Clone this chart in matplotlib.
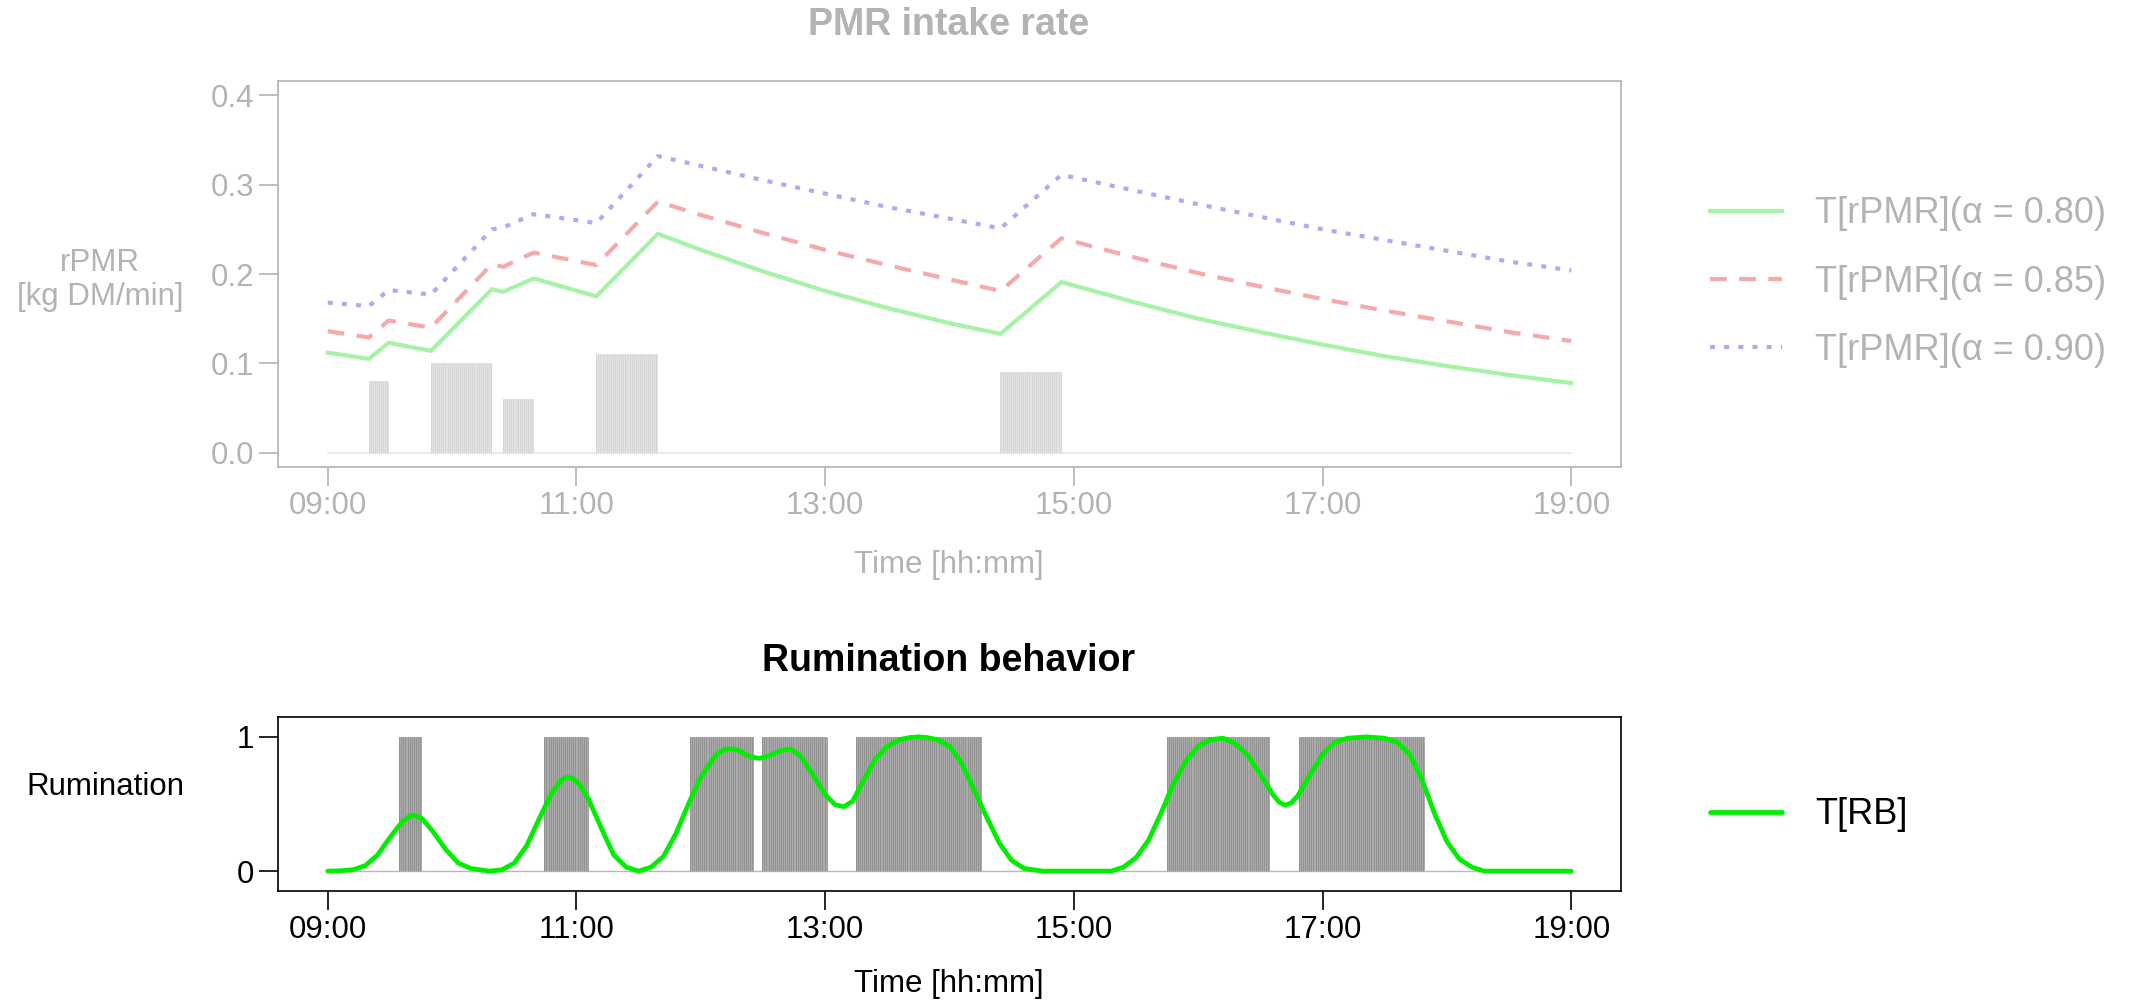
import numpy as np
import matplotlib.pyplot as plt

plt.rcParams['font.family'] = ['Liberation Sans', 'DejaVu Sans']

# x axis: time in decimal hours
tick_hours = [9, 11, 13, 15, 17, 19]
tick_labels = ['09:00', '11:00', '13:00', '15:00', '17:00', '19:00']

# PMR intake rate (same time grid for all three curves)
pmr_time = [9.0, 9.33, 9.49, 9.83, 10.32, 10.41, 10.655, 11.16, 11.655, 12.0, 12.5, 13.0,
            13.5, 14.0, 14.41, 14.9, 15.5, 16.0, 16.5, 17.0, 17.5, 18.0, 18.5, 19.0]
pmr_a080 = [0.112, 0.105, 0.123, 0.114, 0.183, 0.180, 0.195, 0.175, 0.245, 0.227, 0.203, 0.181,
            0.162, 0.145, 0.133, 0.191, 0.168, 0.150, 0.135, 0.121, 0.108, 0.097, 0.087, 0.078]
pmr_a085 = [0.136, 0.129, 0.148, 0.140, 0.211, 0.208, 0.224, 0.210, 0.281, 0.266, 0.246, 0.227,
            0.210, 0.194, 0.181, 0.240, 0.218, 0.201, 0.186, 0.172, 0.159, 0.147, 0.135, 0.125]
pmr_a090 = [0.168, 0.164, 0.182, 0.177, 0.250, 0.252, 0.267, 0.257, 0.332, 0.321, 0.305, 0.290,
            0.275, 0.262, 0.251, 0.311, 0.293, 0.278, 0.264, 0.250, 0.238, 0.226, 0.214, 0.204]
pmr_labels = ['T[rPMR](\u03b1 = 0.80)', 'T[rPMR](\u03b1 = 0.85)', 'T[rPMR](\u03b1 = 0.90)']

# intake events
intake_start = [9.33, 9.83, 10.41, 11.16, 14.41]
intake_end = [9.49, 10.32, 10.655, 11.655, 14.9]
intake_height = [0.08, 0.10, 0.06, 0.11, 0.09]

# rumination bouts
rum_start = [9.575, 10.742, 11.912, 12.495, 13.245, 15.746, 16.81]
rum_end = [9.758, 11.094, 12.427, 13.012, 14.26, 16.575, 17.825]

# smoothed rumination behaviour
rb_time = [9.00, 9.10, 9.20, 9.30, 9.40, 9.50, 9.60, 9.68, 9.76, 9.85, 9.95, 10.05, 10.15, 10.30,
           10.40, 10.50, 10.60, 10.70, 10.80, 10.87, 10.92, 10.97, 11.03, 11.10, 11.20, 11.30,
           11.40, 11.50, 11.60, 11.70, 11.80, 11.90, 12.00, 12.10, 12.15, 12.20, 12.25, 12.30,
           12.40, 12.47, 12.55, 12.65, 12.72, 12.80, 12.90, 13.00, 13.08, 13.15, 13.22, 13.30,
           13.40, 13.50, 13.60, 13.68, 13.75, 13.82, 13.90, 14.00, 14.10, 14.20, 14.30, 14.40,
           14.50, 14.60, 14.75, 15.30, 15.40, 15.50, 15.60, 15.70, 15.80, 15.90, 16.00, 16.10,
           16.20, 16.30, 16.40, 16.50, 16.60, 16.65, 16.70, 16.75, 16.80, 16.90, 17.00, 17.10,
           17.20, 17.35, 17.50, 17.60, 17.70, 17.80, 17.90, 18.00, 18.10, 18.20, 18.30, 19.00]
rb_value = [0.00, 0.003, 0.01, 0.04, 0.12, 0.25, 0.37, 0.42, 0.39, 0.29, 0.16, 0.06, 0.02, 0.00,
            0.01, 0.06, 0.19, 0.39, 0.58, 0.67, 0.70, 0.69, 0.64, 0.53, 0.32, 0.12,
            0.03, 0.00, 0.03, 0.11, 0.28, 0.50, 0.70, 0.84, 0.885, 0.91, 0.91, 0.90,
            0.85, 0.84, 0.86, 0.90, 0.91, 0.86, 0.72, 0.57, 0.495, 0.48, 0.52, 0.66,
            0.83, 0.93, 0.98, 0.995, 1.00, 0.995, 0.98, 0.93, 0.80, 0.60, 0.40, 0.21,
            0.08, 0.02, 0.00, 0.00, 0.03, 0.10, 0.23, 0.43, 0.65, 0.82, 0.93, 0.98,
            0.99, 0.95, 0.86, 0.72, 0.57, 0.515, 0.49, 0.51, 0.56, 0.72, 0.87, 0.96,
            0.99, 1.00, 0.99, 0.96, 0.87, 0.68, 0.43, 0.22, 0.09, 0.03, 0.00, 0.00]

W, H = 2149, 1005
fig = plt.figure(figsize=(W / 100, H / 100), dpi=100)

faded = '#b3b3b3'
fs = 22.5

def style_axis(ax, col):
    for sp in ax.spines.values():
        sp.set_color(col)
        sp.set_linewidth(1.2)
    ax.tick_params(colors=col, labelcolor=col, labelsize=fs, length=14, width=1.2, pad=3)
    ax.set_xlim(8.6, 19.4)
    ax.set_xticks(tick_hours)
    ax.set_xticklabels(tick_labels)

# ---- top panel: PMR intake rate ----
ax1 = fig.add_axes([278 / W, 1 - 467 / H, 1343 / W, 386 / H])
style_axis(ax1, faded)
ax1.set_ylim(-0.016, 0.416)
ax1.set_yticks([0.0, 0.1, 0.2, 0.3, 0.4])
ax1.set_yticklabels(['0.0', '0.1', '0.2', '0.3', '0.4'])

ax1.plot([tick_hours[0], tick_hours[-1]], [0, 0], color='#e6e6e6', lw=1.2)
for s, e, h in zip(intake_start, intake_end, intake_height):
    ax1.bar(s, h, width=e - s, align='edge', color='#e2e2e2', lw=0)
    ax1.vlines(np.arange(s, e, 1 / 60), 0, h, color='#d4d4d4', lw=0.6)

l1, = ax1.plot(pmr_time, pmr_a080, color='#a6f2a6', lw=3, solid_joinstyle='round')
l2, = ax1.plot(pmr_time, pmr_a085, color='#f4aaaa', lw=3, ls=(0, (4, 3)))
l3, = ax1.plot(pmr_time, pmr_a090, color='#acacf2', lw=3, ls=(0, (1.2, 2.2)))
ax1.legend([l1, l2, l3], pmr_labels, loc='center left', bbox_to_anchor=(1710 / W, 1 - 282 / H),
           bbox_transform=fig.transFigure, frameon=False, fontsize=26, labelcolor=faded,
           borderpad=0, borderaxespad=0, handlelength=2.0, handletextpad=0.92, labelspacing=0.92)

fig.text(949 / W, 1 - 25 / H, 'PMR intake rate', ha='center', va='center', fontsize=27,
         fontweight='bold', color=faded)
fig.text(100 / W, 1 - 280 / H, 'rPMR\n[kg DM/min]', ha='center', va='center', fontsize=fs,
         color=faded, linespacing=1.15)
fig.text(949 / W, 1 - 565 / H, 'Time [hh:mm]', ha='center', va='center', fontsize=fs, color=faded)

# ---- bottom panel: rumination behaviour ----
ax2 = fig.add_axes([278 / W, 1 - 891 / H, 1343 / W, 174 / H])
style_axis(ax2, 'black')
ax2.set_ylim(-0.148, 1.148)
ax2.set_yticks([0, 1])
ax2.set_yticklabels(['0', '1'])

ax2.plot([tick_hours[0], tick_hours[-1]], [0, 0], color='#b8b8b8', lw=1)
for s, e in zip(rum_start, rum_end):
    ax2.bar(s, 1, width=e - s, align='edge', color='#ababab', lw=0)
    ax2.vlines(np.arange(s, e, 1 / 60), 0, 1, color='#8e8e8e', lw=0.6)

l4, = ax2.plot(rb_time, rb_value, color='#00ee00', lw=3.4, solid_joinstyle='round',
               solid_capstyle='round')
ax2.legend([l4], ['T[RB]'], loc='center left', bbox_to_anchor=(1710 / W, 1 - 815 / H),
           bbox_transform=fig.transFigure, frameon=False, fontsize=26,
           borderpad=0, borderaxespad=0, handlelength=2.0, handletextpad=0.92)

fig.text(949 / W, 1 - 661 / H, 'Rumination behavior', ha='center', va='center', fontsize=27,
         fontweight='bold', color='black')
fig.text(105 / W, 1 - 787 / H, 'Rumination', ha='center', va='center', fontsize=fs, color='black')
fig.text(949 / W, 1 - 984 / H, 'Time [hh:mm]', ha='center', va='center', fontsize=fs, color='black')

fig.savefig('out.png', dpi=100)
